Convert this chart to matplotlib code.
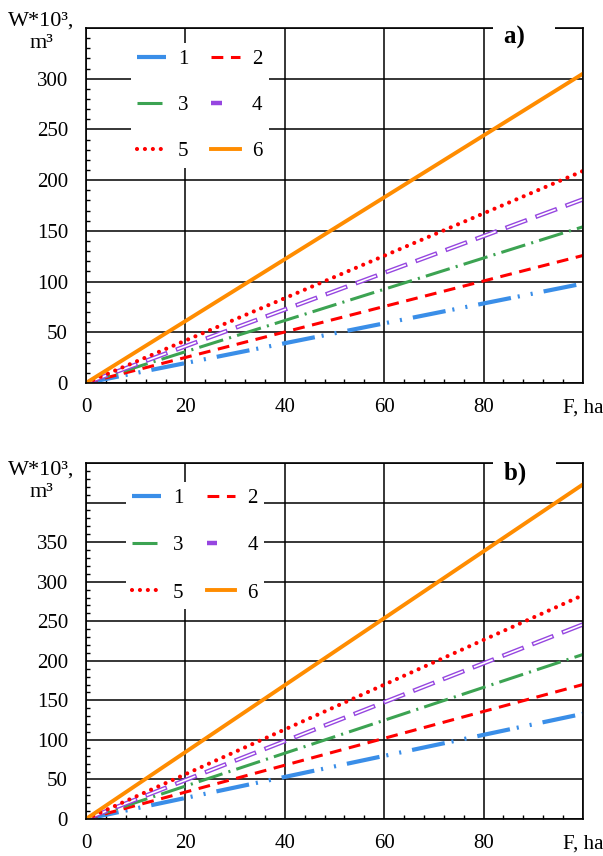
import matplotlib
matplotlib.use('Agg')
import matplotlib.pyplot as plt
from matplotlib.lines import Line2D
from matplotlib.ticker import MultipleLocator
from matplotlib.legend_handler import HandlerTuple

plt.rcParams['font.family'] = ['Liberation Serif', 'DejaVu Serif']
plt.rcParams['lines.scale_dashes'] = False

# area F, ha
F = [0, 100]
labels = ['1', '2', '3', '4', '5', '6']

# W*10^3 m3, panel a)
w1_a = [0, 98]
w2_a = [0, 125.7]
w3_a = [0, 154]
w4_a = [0, 181]
w5_a = [0, 209]
w6_a = [0, 305]

# panel b)
w1_b = [0, 133]
w2_b = [0, 170]
w3_b = [0, 208]
w4_b = [0, 246]
w5_b = [0, 283]
w6_b = [0, 423]

xticks = [0, 20, 40, 60, 80, 100]
xticklabels = ['0', '20', '40', '60', '80', 'F, ha']

PURPLE = '#9646e0'


def draw(ax, series, ymax, ylab_max, tag, leg_anchor, leg_space):
    h = {}
    h['1'], = ax.plot(F, series[0], color='#3a8ee8', lw=3.0,
                      ls=(0, (24, 5, 1.5, 8, 1.5, 8)))
    h['2'], = ax.plot(F, series[1], color='#ff0000', lw=2.2, ls=(0, (8.5, 5.5)))
    h['3'], = ax.plot(F, series[2], color='#3ca352', lw=2.2,
                      ls=(0, (18, 4.5, 1.5, 4.5)))
    # hollow purple dashes: thick purple + thin white on top
    ax.plot(F, series[3], color=PURPLE, lw=3.2, ls=(0, (16.5, 6.5)))
    ax.plot(F, series[3], color='white', lw=1.2, ls=(22, (14.5, 8.5)))
    # shorter pattern for the legend sample
    h['4'] = (Line2D([], [], color=PURPLE, lw=3.2, ls=(0, (13, 3, 4, 10))),
              Line2D([], [], color='white', lw=1.2, ls=(29, (11, 5, 2, 12))))
    h['5'], = ax.plot(F, series[4], color='#ff0000', lw=3.0, ls=(0, (0.01, 5.7)),
                      dash_capstyle='round')
    h['6'], = ax.plot(F, series[5], color='#ff8c00', lw=2.8, ls='-')

    ax.set_xlim(0, 100)
    ax.set_ylim(0, ymax)
    ax.set_xticks(xticks)
    ax.set_xticklabels(xticklabels)
    yt = list(range(0, ymax + 1, 50))
    ax.set_yticks(yt)
    ax.set_yticklabels([str(v) if v <= ylab_max else '' for v in yt])
    ax.xaxis.set_minor_locator(MultipleLocator(4))
    ax.yaxis.set_minor_locator(MultipleLocator(10))
    ax.grid(True, which='major', color='black', lw=1.1)
    ax.tick_params(which='major', length=0, labelsize=15)
    ax.tick_params(axis='y', which='major', pad=13)
    ax.tick_params(axis='x', which='major', pad=11)
    ax.tick_params(which='minor', direction='in', length=3, width=1,
                   top=False, right=False)
    for s in ax.spines.values():
        s.set_linewidth(1.2)

    order = ['1', '3', '5', '2', '4', '6']
    ax.legend([h[k] for k in order], order, ncol=2, loc='upper left',
              bbox_to_anchor=leg_anchor, fontsize=15, frameon=True,
              facecolor='white', edgecolor='none', framealpha=1,
              fancybox=False, handlelength=1.35, handletextpad=0.6,
              columnspacing=1.1, labelspacing=leg_space, borderpad=0.3,
              handler_map={tuple: HandlerTuple(ndivide=None)})

    ax.text(0.841, 0.972, tag + '   ', transform=ax.transAxes, ha='left',
            va='center', fontsize=18, fontweight='bold', zorder=10,
            clip_on=False,
            bbox=dict(boxstyle='square,pad=0.45', fc='white', ec='none'))


fig = plt.figure(figsize=(6.03, 8.56), dpi=100)
ax1 = fig.add_axes([0.1426, 0.5526, 0.8242, 0.4147])
ax2 = fig.add_axes([0.1426, 0.0432, 0.8242, 0.4159])

draw(ax1, [w1_a, w2_a, w3_a, w4_a, w5_a, w6_a], 350, 300, 'a)',
     (0.07, 0.986), 1.27)
draw(ax2, [w1_b, w2_b, w3_b, w4_b, w5_b, w6_b], 450, 350, 'b)',
     (0.06, 0.975), 1.33)

fig.text(41 / 603, 1 - 12 / 856, 'W*10³,\nm³', ha='center', va='top',
         fontsize=16, linespacing=1.2)
fig.text(41 / 603, 1 - 461 / 856, 'W*10³,\nm³', ha='center', va='top',
         fontsize=16, linespacing=1.2)

fig.savefig('out.png', dpi=100)
